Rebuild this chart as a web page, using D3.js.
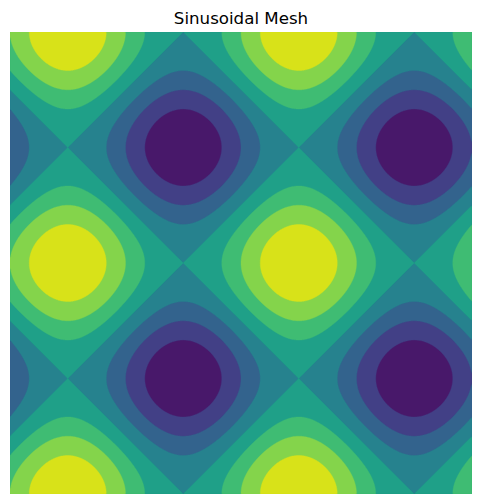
<!DOCTYPE html>
<html>
<head>
<meta charset="utf-8">
<script src="https://cdn.jsdelivr.net/npm/d3@7"></script>
<style>
  body { margin: 0; background: #ffffff; }
  svg { display: block; }
</style>
</head>
<body>
<div id="chart"></div>
<script>
'use strict'

// data: z = sin(x) + cos(y) over [0, 4pi] x [0, 4pi]
const xDomain = [0, 4 * Math.PI]
const yDomain = [0, 4 * Math.PI]
const levels = [-2, -1.5, -1, -0.5, 0, 0.5, 1, 1.5, 2]
const title = 'Sinusoidal Mesh'

const svgWidth = 482
const svgHeight = 504
const margin = { left: 10, right: 10, top: 32, bottom: 10 }
const width = svgWidth - margin.left - margin.right
const height = svgHeight - margin.top - margin.bottom

const svg = d3.select('#chart')
    .append('svg')
    .attr('width', svgWidth)
    .attr('height', svgHeight)

svg.append('text')
    .attr('x', margin.left + width / 2)
    .attr('y', 24)
    .attr('text-anchor', 'middle')
    .attr('font-family', 'DejaVu Sans, sans-serif')
    .attr('font-size', '16.67px')
    .attr('fill', '#000000')
    .text(title)

const x = d3.scaleLinear().domain(xDomain).range([0, width])
const y = d3.scaleLinear().domain(yDomain).range([height, 0])

// grid sampled at one point per pixel
const n = width, m = height
const values = new Float64Array(n * m)
for (let j = 0; j < m; j++) {
    const yv = y.invert(j + 0.5)
    for (let i = 0; i < n; i++) {
        const xv = x.invert(i + 0.5)
        values[i + j * n] = Math.sin(xv) + Math.cos(yv)
    }
}

// band colour from the midpoint of each level pair
const color = d3.scaleSequential(d3.interpolateViridis)
    .domain([levels[0], levels[levels.length - 1]])
const bands = levels.slice(0, -1).map((lo, i) => ({ lo, mid: (lo + levels[i + 1]) / 2 }))

const g = svg.append('g')
    .attr('transform', `translate(${margin.left},${margin.top})`)

g.append('clipPath')
    .attr('id', 'plot-clip')
    .append('rect')
    .attr('width', width)
    .attr('height', height)

const plot = g.append('g').attr('clip-path', 'url(#plot-clip)')

// lowest band fills the whole area
plot.append('rect')
    .attr('width', width)
    .attr('height', height)
    .attr('fill', color(bands[0].mid))

const contours = d3.contours()
    .size([n, m])
    .thresholds(bands.slice(1).map(b => b.lo))(values)

const path = d3.geoPath(d3.geoIdentity().scale(width / n))

plot.selectAll('path.band')
    .data(contours)
    .join('path')
    .attr('class', 'band')
    .attr('d', path)
    .attr('fill', d => color(bands.find(b => b.lo === d.value).mid))
    .attr('stroke', d => color(bands.find(b => b.lo === d.value).mid))
    .attr('stroke-width', 0.4)
</script>
</body>
</html>
